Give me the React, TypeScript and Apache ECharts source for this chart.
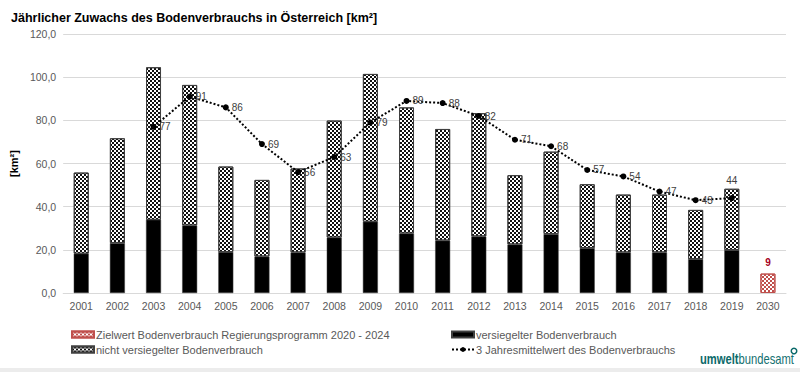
import React, { useEffect, useRef } from "react";
import * as echarts from "echarts";

const years = ["2001","2002","2003","2004","2005","2006","2007","2008","2009","2010","2011","2012","2013","2014","2015","2016","2017","2018","2019","2030"];
const versiegelt = [18.2, 23.1, 33.9, 31.3, 19.0, 16.9, 18.8, 25.7, 33.0, 27.6, 24.3, 26.2, 22.5, 27.3, 20.8, 18.8, 18.8, 15.7, 19.9, null];
const nichtVersiegelt = [37.6, 48.6, 70.7, 65.1, 39.6, 35.5, 38.9, 54.2, 68.5, 58.4, 51.7, 57.1, 32.1, 38.2, 29.6, 26.8, 26.8, 22.8, 28.4, null];
const zielwert = [null, null, null, null, null, null, null, null, null, null, null, null, null, null, null, null, null, null, null, 9];
const mittelwert = [null, null, 77, 91, 86, 69, 56, 63, 79, 89, 88, 82, 71, 68, 57, 54, 47, 43, 44, null];
const yTicks = { min: 0, max: 120, interval: 20 };

const FONT = "Liberation Sans, Arial, sans-serif";

export default function App() {
  const ref = useRef<HTMLDivElement>(null);
  useEffect(() => {
    if (!ref.current) return;
    const chart = echarts.init(ref.current, null, { renderer: "svg" });
    const patternDecal = {
      symbol: "rect",
      symbolSize: 1,
      color: "#111",
      dashArrayX: [[2, 1.5], [0, 1.75, 2, 0]],
      dashArrayY: [2, 0],
      rotation: 0,
    };
    const redDecal = { ...patternDecal, color: "#c0504d" };
    const legendText = { color: "#595959", fontSize: 11, fontFamily: FONT, padding: [0, 0, 0, -3] };
    chart.setOption({
      animation: false,
      backgroundColor: "#fff",
      textStyle: { fontFamily: FONT },
      title: {
        text: "Jährlicher Zuwachs des Bodenverbrauchs in Österreich [km²]",
        left: 6,
        top: 6,
        textStyle: { fontSize: 12.5, fontWeight: "bold", color: "#000", fontFamily: FONT },
      },
      grid: { left: 53, right: 14, top: 34, bottom: 79, containLabel: false },
      xAxis: {
        type: "category",
        data: years,
        axisTick: { show: false },
        axisLine: { lineStyle: { color: "#d9d9d9" } },
        axisLabel: { color: "#595959", fontSize: 10.5, margin: 7, fontFamily: FONT },
      },
      yAxis: {
        type: "value",
        min: yTicks.min,
        max: yTicks.max,
        interval: yTicks.interval,
        name: "[km²]",
        nameLocation: "middle",
        nameGap: 40,
        nameRotate: 90,
        nameTextStyle: { fontWeight: "bold", color: "#000", fontSize: 11, fontFamily: FONT },
        axisLabel: {
          color: "#595959",
          fontSize: 10.5,
          margin: 7,
          fontFamily: FONT,
          formatter: (v: number) => v.toFixed(1).replace(".", ","),
        },
        splitLine: { lineStyle: { color: "#d9d9d9" } },
      },
      legend: [
        {
          orient: "vertical",
          left: 66,
          top: 324,
          itemWidth: 22,
          itemHeight: 6,
          itemGap: 4,
          textStyle: legendText,
          data: [
            { name: "Zielwert Bodenverbrauch Regierungsprogramm 2020 - 2024", icon: "rect" },
            { name: "nicht versiegelter Bodenverbrauch", icon: "rect" },
          ],
        },
        {
          orient: "vertical",
          left: 446,
          top: 324,
          itemWidth: 22,
          itemHeight: 6,
          itemGap: 4,
          textStyle: legendText,
          data: [
            { name: "versiegelter Bodenverbrauch", icon: "rect" },
            "3 Jahresmittelwert des Bodenverbrauchs",
          ],
        },
      ],
      series: [
        {
          name: "versiegelter Bodenverbrauch",
          type: "bar",
          stack: "total",
          barWidth: 15,
          barGap: "-100%",
          data: versiegelt,
          itemStyle: { color: "#000", borderColor: "#404040", borderWidth: 0.5 },
        },
        {
          name: "nicht versiegelter Bodenverbrauch",
          type: "bar",
          stack: "total",
          barWidth: 15,
          data: nichtVersiegelt,
          itemStyle: { color: "#fff", decal: patternDecal, borderColor: "#404040", borderWidth: 1 },
        },
        {
          name: "Zielwert Bodenverbrauch Regierungsprogramm 2020 - 2024",
          type: "bar",
          barWidth: 15,
          barGap: "-100%",
          data: zielwert,
          itemStyle: { color: "#fff", decal: redDecal, borderColor: "#c0504d", borderWidth: 1 },
          label: {
            show: true,
            position: "top",
            distance: 6,
            color: "#a50021",
            fontWeight: "bold",
            fontSize: 10,
            formatter: (p: any) => String(Math.round(p.value)),
          },
        },
        {
          name: "3 Jahresmittelwert des Bodenverbrauchs",
          type: "line",
          data: mittelwert.map((v, i) =>
            i === 18
              ? { value: v, label: { position: "top", distance: 10 } }
              : v
          ),
          symbol: "circle",
          symbolSize: 6,
          itemStyle: { color: "#000" },
          lineStyle: { color: "#000", width: 2, type: "dotted" },
          label: {
            show: true,
            position: "right",
            distance: 3,
            color: "#404040",
            fontSize: 10,
            fontFamily: FONT,
            formatter: (p: any) => String(Math.round(p.value)),
          },
          z: 5,
        },
      ],
      graphic: [
        {
          type: "text",
          x: 700,
          y: 353,
          scaleX: 0.8,
          style: {
            text: "{a|umwelt}{b|bundesamt}",
            rich: {
              a: { fontSize: 14, fontWeight: "bold", fill: "#0b6a6a", fontFamily: FONT },
              b: { fontSize: 14, fill: "#14706f", fontFamily: FONT },
            },
          },
        },
        {
          type: "ring",
          shape: { cx: 794, cy: 351, r: 3.5, r0: 2 },
          style: { fill: "#0b6a6a" },
        },
        {
          type: "rect",
          shape: { x: 0, y: 368, width: 800, height: 4 },
          style: { fill: "#ececec" },
        },
      ],
    });
    return () => chart.dispose();
  }, []);
  return <div ref={ref} style={{ width: 800, height: 372, position: "absolute", left: 0, top: 0 }} />;
}
